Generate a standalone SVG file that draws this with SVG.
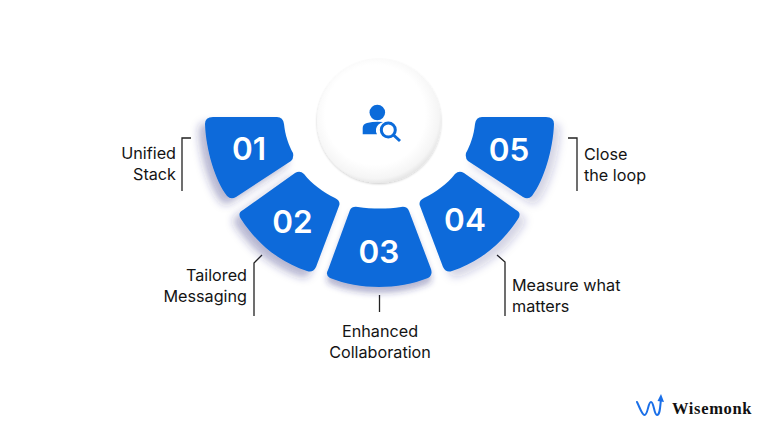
<svg xmlns="http://www.w3.org/2000/svg" width="768" height="432" viewBox="0 0 768 432">
<style>
.seg{fill:#0b6bda}
.num{font:600 31.500px Inter,"Liberation Sans",sans-serif;fill:#fff;text-anchor:middle}
.lab{font:400 16.200px Inter,"Liberation Sans",sans-serif;fill:#141414}
.ln{fill:none;stroke:#222;stroke-width:1.3}
.r{text-anchor:end}.m{text-anchor:middle}
</style>
<defs>
<filter id="sl" x="-30%" y="-30%" width="160%" height="160%"><feDropShadow dx="-6" dy="6" stdDeviation="4" flood-color="#2a2a7a" flood-opacity=".35"/></filter>
<filter id="sb" x="-30%" y="-30%" width="160%" height="160%"><feDropShadow dx="0" dy="6" stdDeviation="3" flood-color="#2a2a7a" flood-opacity=".35"/></filter>
<filter id="sr" x="-30%" y="-30%" width="160%" height="160%"><feDropShadow dx="6" dy="6" stdDeviation="4" flood-color="#2a2a7a" flood-opacity=".2"/></filter>
<filter id="sc" x="-30%" y="-30%" width="160%" height="160%"><feDropShadow dx="0" dy="1" stdDeviation="1" flood-color="#000" flood-opacity=".2"/></filter>
<radialGradient id="cg" cx=".47" cy=".45" r=".56"><stop offset=".72" stop-color="#fff"/><stop offset=".92" stop-color="#f5f5f5"/><stop offset="1" stop-color="#e4e4e4"/></radialGradient>
</defs>
<rect width="768" height="432" fill="#fff"/>
<g id="connectors">
<path class="ln" d="M191,138H182V191"/>
<path class="ln" d="M262,255L254,263V316"/>
<path class="ln" d="M379.500,295V312"/>
<path class="ln" d="M497,255L505,262V316"/>
<path class="ln" d="M568,138H577V191"/>
</g>
<g id="center"><circle cx="379" cy="121" r="62" fill="url(#cg)" filter="url(#sc)"/>
<g fill="#0b6bda"><circle cx="377.300" cy="112.500" r="7.800"/><path d="M362.700,134.300V128Q362.700,124 367,123Q375,121 383,122Q377,124 376,129Q375.500,132 377,134.300Z"/></g>
<circle cx="388.300" cy="130" r="7" fill="none" stroke="#0b6bda" stroke-width="3"/><path d="M393.500,135L400,141" stroke="#0b6bda" stroke-width="3" fill="none"/></g>
<g id="n01"><path class="seg" filter="url(#sl)" d="M213,117L277,117Q283,117 284,124C285,135 289,146 293,153Q294,158 291,161L236,197Q231,200 227,196C215,180 206,150 205,124Q205,117 213,117Z"/><text class="num" x="249" y="160">01</text><text class="lab r" x="176" y="159">Unified</text><text class="lab r" x="176" y="180">Stack</text></g>
<g id="n02"><path class="seg" filter="url(#sl)" d="M295,173Q300,170 304,174C312,184 323,192 335,198Q341,201 339,206L316,267Q313,273 307,271C280,262 258,245 241,219Q237,213 243,210Z"/><text class="num" x="292.500" y="233">02</text><text class="lab r" x="247" y="281">Tailored</text><text class="lab r" x="247" y="302">Messaging</text></g>
<g id="n03"><path class="seg" filter="url(#sb)" d="M350,210Q352,206 358,207C372,209 388,209 401,207Q407,206 409,211L431,269Q433,275 428,278C398,290 360,290 330,278Q325,275 328,270Z"/><text class="num" x="379" y="263">03</text><text class="lab m" x="380" y="337">Enhanced</text><text class="lab m" x="380" y="358">Collaboration</text></g>
<g id="n04"><path class="seg" filter="url(#sr)" d="M464,173Q459,170 455,174C447,184 436,192 424,198Q418,201 420,206L443,267Q446,273 452,271C479,262 501,245 518,219Q522,213 516,210Z"/><text class="num" x="465" y="231">04</text><text class="lab" x="512" y="291">Measure what</text><text class="lab" x="512" y="312">matters</text></g>
<g id="n05"><path class="seg" filter="url(#sr)" d="M546,117L482,117Q476,117 475,124C474,135 470,146 466,153Q465,158 468,161L523,197Q528,200 532,196C544,180 553,150 554,124Q554,117 546,117Z"/><text class="num" x="509" y="161">05</text><text class="lab" x="584" y="160">Close</text><text class="lab" x="584" y="181">the loop</text></g>
<g id="logo"><path d="M637,402C640,408 642,415 644.500,415C648,415 648,402 651,402C654,402 654,415 657,415C660,415 660,408 661,399" fill="none" stroke="#1a6fe8" stroke-width="2" stroke-linecap="round"/><path d="M657.500,401L661,394L664,402Z" fill="#1a6fe8"/><text x="672" y="414" style="font:700 16.500px 'Liberation Serif',serif;letter-spacing:.65px;fill:#111">Wisemonk</text></g>
</svg>
